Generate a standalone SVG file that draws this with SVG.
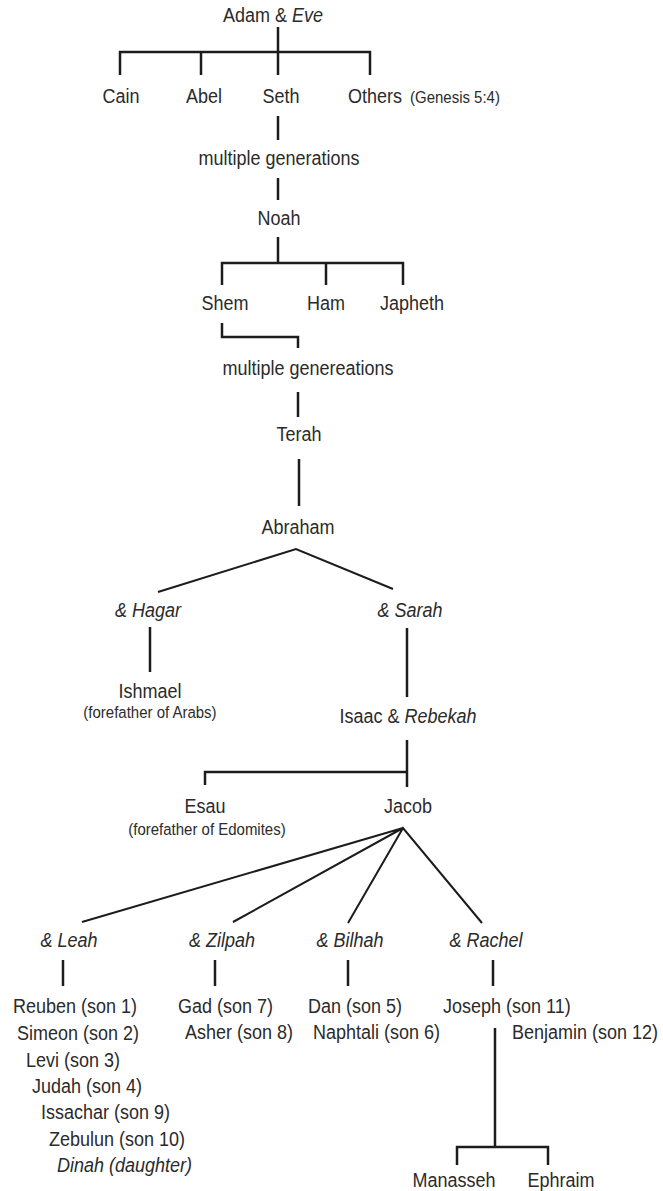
<svg xmlns="http://www.w3.org/2000/svg" width="663" height="1191" viewBox="0 0 663 1191">
<style>
text { font-family: "Liberation Sans", Arial, sans-serif; font-size: 18px; fill: #2b2b2b; }
.m { text-anchor: middle; }
.s { font-size: 15px; }
.i { font-style: italic; }
.b { fill: none; stroke: #1c1c1c; stroke-width: 2.5; stroke-linecap: butt; stroke-linejoin: miter; }
.d { fill: none; stroke: #1c1c1c; stroke-width: 2; }
</style>
<rect width="663" height="1191" fill="#ffffff"/>
<g id="connectors">
  <path class="b" d="M278 27V52M120 75V52H370V75M201 52V75M278 52V75"/>
  <path class="b" d="M278 116V140M278 178V200M278 237V263M222 285V263H403V285M326 263V285"/>
  <path class="b" d="M222 323V337H298V348M298 392V417M299 459V506"/>
  <path class="d" d="M158 592L296 549L393 589"/>
  <path class="b" d="M150 627V672M407 628V697M407 740V787M205 785V772H407"/>
  <path class="d" d="M82 922L403 828L233 922M348 923L403 828L482 923"/>
  <path class="b" d="M63 960V986M215 960V986M348 960V986M493 960V986"/>
  <path class="b" d="M495 1028V1147M457 1165V1147H548V1165"/>
</g>
<g id="adam-eve"><text class="m" x="273" y="22" transform="matrix(1 0 0 1.1 0 -2.2)">Adam &amp; <tspan class="i">Eve</tspan></text></g>
<g id="cain"><text class="m" x="121" y="103" transform="matrix(1 0 0 1.1 0 -10.3)">Cain</text></g>
<g id="abel"><text class="m" x="204" y="103" transform="matrix(1 0 0 1.1 0 -10.3)">Abel</text></g>
<g id="seth"><text class="m" x="281" y="103" transform="matrix(1 0 0 1.1 0 -10.3)">Seth</text></g>
<g id="others"><text x="348" y="103" transform="matrix(1 0 0 1.1 0 -10.3)">Others</text><text class="s" x="410" y="103" transform="matrix(1 0 0 1.1 0 -10.3)">(Genesis 5:4)</text></g>
<g id="generations1"><text class="m" x="279" y="165" transform="matrix(1 0 0 1.1 0 -16.5)">multiple generations</text></g>
<g id="noah"><text class="m" x="279" y="225" transform="matrix(1 0 0 1.1 0 -22.5)">Noah</text></g>
<g id="shem"><text class="m" x="225" y="310" transform="matrix(1 0 0 1.1 0 -31)">Shem</text></g>
<g id="ham"><text class="m" x="326" y="310" transform="matrix(1 0 0 1.1 0 -31)">Ham</text></g>
<g id="japheth"><text class="m" x="412" y="310" transform="matrix(1 0 0 1.1 0 -31)">Japheth</text></g>
<g id="generations2"><text class="m" x="308" y="375" transform="matrix(1 0 0 1.1 0 -37.5)">multiple genereations</text></g>
<g id="terah"><text class="m" x="299" y="441" transform="matrix(1 0 0 1.1 0 -44.1)">Terah</text></g>
<g id="abraham"><text class="m" x="298" y="534" transform="matrix(1 0 0 1.1 0 -53.4)">Abraham</text></g>
<g id="hagar"><text class="m i" x="148" y="617" transform="matrix(1 0 0 1.1 0 -61.7)">&amp; Hagar</text></g>
<g id="sarah"><text class="m i" x="410" y="617" transform="matrix(1 0 0 1.1 0 -61.7)">&amp; Sarah</text></g>
<g id="ishmael"><text class="m" x="150" y="698" transform="matrix(1 0 0 1.1 0 -69.8)">Ishmael</text><text class="m s" x="150" y="718" transform="matrix(1 0 0 1.1 0 -71.8)">(forefather of Arabs)</text></g>
<g id="isaac-rebekah"><text class="m" x="408" y="723" transform="matrix(1 0 0 1.1 0 -72.3)">Isaac &amp; <tspan class="i">Rebekah</tspan></text></g>
<g id="esau"><text class="m" x="205" y="813" transform="matrix(1 0 0 1.1 0 -81.3)">Esau</text><text class="m s" x="207" y="835" transform="matrix(1 0 0 1.1 0 -83.5)">(forefather of Edomites)</text></g>
<g id="jacob"><text class="m" x="408" y="813" transform="matrix(1 0 0 1.1 0 -81.3)">Jacob</text></g>
<g id="leah"><text class="m i" x="69" y="947" transform="matrix(1 0 0 1.1 0 -94.7)">&amp; Leah</text></g>
<g id="zilpah"><text class="m i" x="222" y="947" transform="matrix(1 0 0 1.1 0 -94.7)">&amp; Zilpah</text></g>
<g id="bilhah"><text class="m i" x="350" y="947" transform="matrix(1 0 0 1.1 0 -94.7)">&amp; Bilhah</text></g>
<g id="rachel"><text class="m i" x="486" y="947" transform="matrix(1 0 0 1.1 0 -94.7)">&amp; Rachel</text></g>
<g id="leah-children">
  <text x="13" y="1013" transform="matrix(1 0 0 1.1 0 -101.3)">Reuben (son 1)</text>
  <text x="17" y="1040" transform="matrix(1 0 0 1.1 0 -104)">Simeon (son 2)</text>
  <text x="26" y="1067" transform="matrix(1 0 0 1.1 0 -106.7)">Levi (son 3)</text>
  <text x="32" y="1093" transform="matrix(1 0 0 1.1 0 -109.3)">Judah (son 4)</text>
  <text x="41" y="1119" transform="matrix(1 0 0 1.1 0 -111.9)">Issachar (son 9)</text>
  <text x="49" y="1146" transform="matrix(1 0 0 1.1 0 -114.6)">Zebulun (son 10)</text>
  <text class="i" x="57" y="1172" transform="matrix(1 0 0 1.1 0 -117.2)">Dinah (daughter)</text>
</g>
<g id="zilpah-children">
  <text x="178" y="1013" transform="matrix(1 0 0 1.1 0 -101.3)">Gad (son 7)</text>
  <text x="185" y="1039" transform="matrix(1 0 0 1.1 0 -103.9)">Asher (son 8)</text>
</g>
<g id="bilhah-children">
  <text x="308" y="1013" transform="matrix(1 0 0 1.1 0 -101.3)">Dan (son 5)</text>
  <text x="313" y="1039" transform="matrix(1 0 0 1.1 0 -103.9)">Naphtali (son 6)</text>
</g>
<g id="joseph"><text x="443" y="1013" transform="matrix(1 0 0 1.1 0 -101.3)">Joseph (son 11)</text></g>
<g id="benjamin"><text x="512" y="1039" transform="matrix(1 0 0 1.1 0 -103.9)">Benjamin (son 12)</text></g>
<g id="manasseh"><text class="m" x="454" y="1187" transform="matrix(1 0 0 1.1 0 -118.7)">Manasseh</text></g>
<g id="ephraim"><text class="m" x="561" y="1187" transform="matrix(1 0 0 1.1 0 -118.7)">Ephraim</text></g>
</svg>
